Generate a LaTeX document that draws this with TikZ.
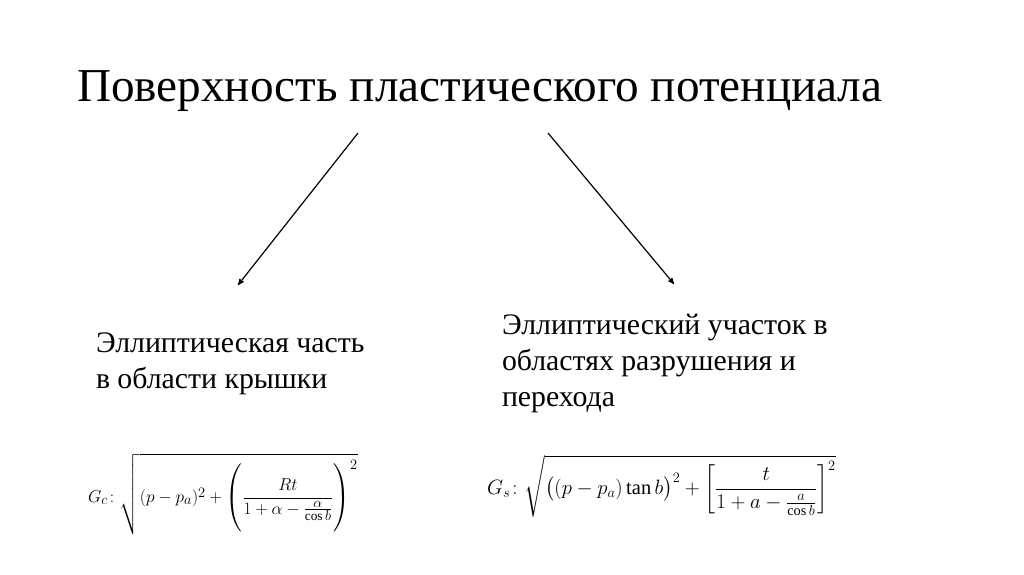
\documentclass[tikz,border=0pt]{standalone}
\usepackage{amsmath}
\usepackage{amssymb}
\usepackage{fontspec}
\setmainfont{Liberation Serif}
\usepackage{tikz}
\usetikzlibrary{arrows}
\usetikzlibrary{positioning}

\begin{document}
\begin{tikzpicture}[->,>=stealth',x=1pt,y=-1pt,line width=1.2pt]
  \tikzstyle{every node}=[inner sep=0pt, outer sep=0pt]
  \tikzstyle{heading}=[font=\fontsize{47.2}{54}\selectfont, anchor=base west]
  \tikzstyle{branch}=[font=\fontsize{29.8}{36.2}\selectfont, align=left, anchor=north west]
  \tikzstyle{formula}=[font=\fontsize{19}{22}\selectfont, anchor=west]

  \useasboundingbox (0,0) rectangle (1024,574);

  \node[heading] (title) at (77,101) {Поверхность пластического потенциала};

  \node[branch] (cap)  at (96,333)  {Эллиптическая часть\\в области крышки};
  \node[branch] (fail) at (502,314) {Эллиптический участок в\\областях разрушения и\\перехода};

  \node[formula] (capeq) at (88,494)
    {$\displaystyle G_c\colon\sqrt{(p-p_a)^2+\left(\vrule height 38pt depth 29pt width 0pt\frac{Rt}{1+\alpha-\frac{\alpha}{\cos b}}\right)^2}$};
  \node[formula, font=\fontsize{20.5}{24}\selectfont] (faileq) at (487,486)
    {$\displaystyle G_s\colon\sqrt{\bigl((p-p_a)\tan b\bigr)^2+\left[\frac{t}{1+a-\frac{a}{\cos b}}\right]^2}$};

  \coordinate (capfrom)  at (358,133);
  \coordinate (capto)    at (238,285);
  \coordinate (failfrom) at (548,133);
  \coordinate (failto)   at (674,284);

  \draw (capfrom) -- (capto);
  \draw (failfrom) -- (failto);
\end{tikzpicture}
\end{document}
